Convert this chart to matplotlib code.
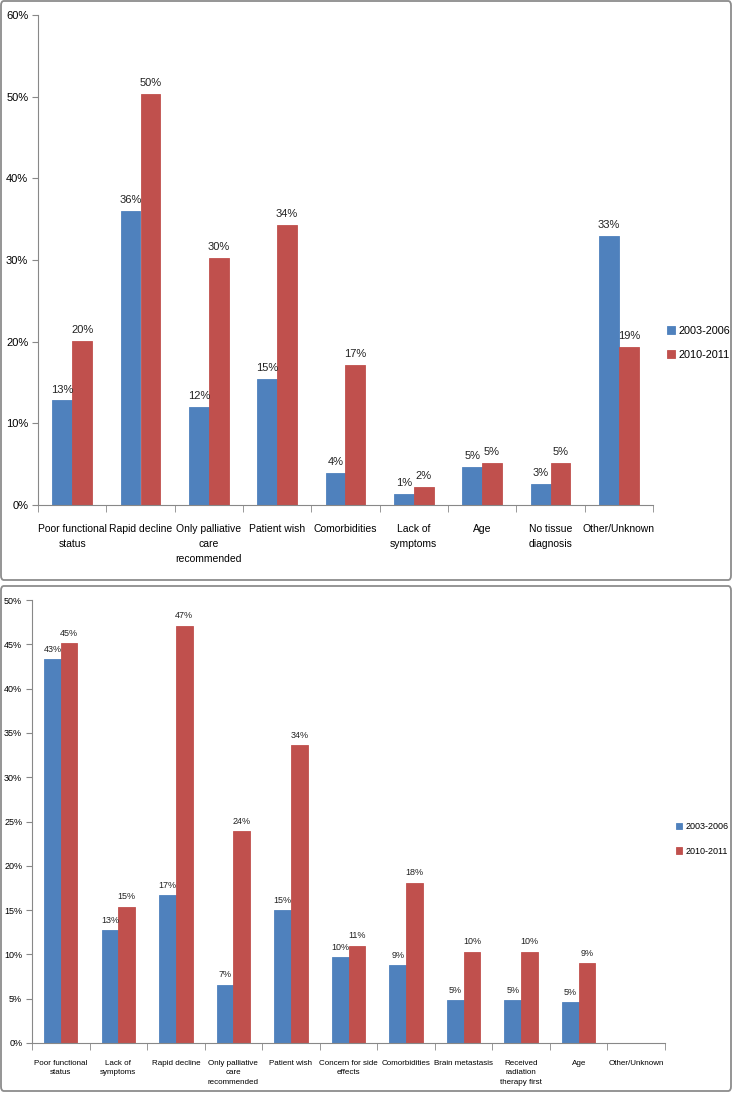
import numpy as np
import matplotlib
matplotlib.use("Agg")
import matplotlib.pyplot as plt
from matplotlib.patches import FancyBboxPatch

plt.rcParams['font.family'] = ['Liberation Sans Narrow', 'Liberation Sans', 'DejaVu Sans']

# ---- data ----
series = ['2003-2006', '2010-2011']
colors = ['#4F81BD', '#C0504D']

top_cats = ['Poor functional\nstatus', 'Rapid decline', 'Only palliative\ncare\nrecommended',
            'Patient wish', 'Comorbidities', 'Lack of\nsymptoms', 'Age',
            'No tissue\ndiagnosis', 'Other/Unknown']
top_early = [12.8, 36.0, 12.0, 15.4, 3.9, 1.4, 4.7, 2.6, 32.9]
top_late = [20.1, 50.3, 30.3, 34.3, 17.1, 2.2, 5.1, 5.1, 19.4]

bot_cats = ['Poor functional\nstatus', 'Lack of\nsymptoms', 'Rapid decline',
            'Only palliative\ncare\nrecommended', 'Patient wish', 'Concern for side\neffects',
            'Comorbidities', 'Brain metastasis', 'Received\nradiation\ntherapy first',
            'Age', 'Other/Unknown']
bot_early = [43.3, 12.7, 16.7, 6.6, 15.0, 9.7, 8.8, 4.8, 4.8, 4.6, np.nan]
bot_late = [45.1, 15.4, 47.1, 23.9, 33.6, 11.0, 18.1, 10.3, 10.3, 9.0, np.nan]

W, H = 734, 1093
fig = plt.figure(figsize=(W / 100, H / 100), dpi=100)


def frac(x0, y0, x1, y1):
    return [x0 / W, 1 - y1 / H, (x1 - x0) / W, (y1 - y0) / H]


def panel_box(x0, y0, x1, y1):
    fig.patches.append(FancyBboxPatch((x0 / W, 1 - y1 / H), (x1 - x0) / W, (y1 - y0) / H,
                                      boxstyle='round,pad=0,rounding_size=0.004',
                                      transform=fig.transFigure, fill=False,
                                      edgecolor='#8c8c8c', linewidth=1.3))


def draw(ax, cats, early, late, ymax, ystep, fs, xfs, lab_fs, leg_xy, leg_fs, leg_sp, pad, lsp):
    x = np.arange(len(cats))
    bw = 0.29
    vals = [early, late]
    for i, (s, c) in enumerate(zip(series, colors)):
        v = np.array(vals[i], dtype=float)
        pos = x + (i - 0.5) * bw
        ax.bar(pos, v, width=bw, color=c, edgecolor=c, linewidth=0.6, label=s)
        for px, pv in zip(pos, v):
            if not np.isnan(pv):
                ax.text(px, pv + ymax * 0.012, f"{pv:.0f}%", ha='center', va='bottom',
                        fontsize=lab_fs, color='#222222')
    ax.set_xlim(-0.5, len(cats) - 0.5)
    ax.set_ylim(0, ymax)
    ticks = np.arange(0, ymax + 0.01, ystep)
    ax.set_yticks(ticks)
    ax.set_yticklabels([f"{int(t)}%" for t in ticks], fontsize=fs)
    ax.set_xticks(x)
    ax.set_xticklabels(cats, fontsize=xfs, linespacing=lsp)
    ax.set_xticks(np.arange(-0.5, len(cats)), minor=True)
    ax.tick_params(axis='x', which='major', length=0, pad=pad)
    ax.tick_params(axis='x', which='minor', length=5, color='#888888')
    ax.tick_params(axis='y', length=4, color='#888888', pad=3)
    for sp in ['top', 'right']:
        ax.spines[sp].set_visible(False)
    for sp in ['left', 'bottom']:
        ax.spines[sp].set_color('#888888')
    ax.legend(loc='center left', bbox_to_anchor=(leg_xy[0] / W, 1 - leg_xy[1] / H),
              bbox_transform=fig.transFigure, frameon=False, borderpad=0, borderaxespad=0,
              fontsize=leg_fs, handlelength=0.7, handleheight=0.7,
              handletextpad=0.4, labelspacing=leg_sp)


panel_box(1, 1, 731, 580)
panel_box(1, 586, 731, 1091)

ax1 = fig.add_axes(frac(38, 15, 653, 505))
draw(ax1, top_cats, top_early, top_late, 60, 10, 8, 7.5, 8, (667, 343), 7.8, 1.3, 14, 1.6)

ax2 = fig.add_axes(frac(32, 600, 665, 1043))
draw(ax2, bot_cats, bot_early, bot_late, 50, 5, 6.5, 5.8, 6.5, (676, 839), 6.5, 1.7, 12, 1.5)

fig.savefig('out.png', dpi=100)
